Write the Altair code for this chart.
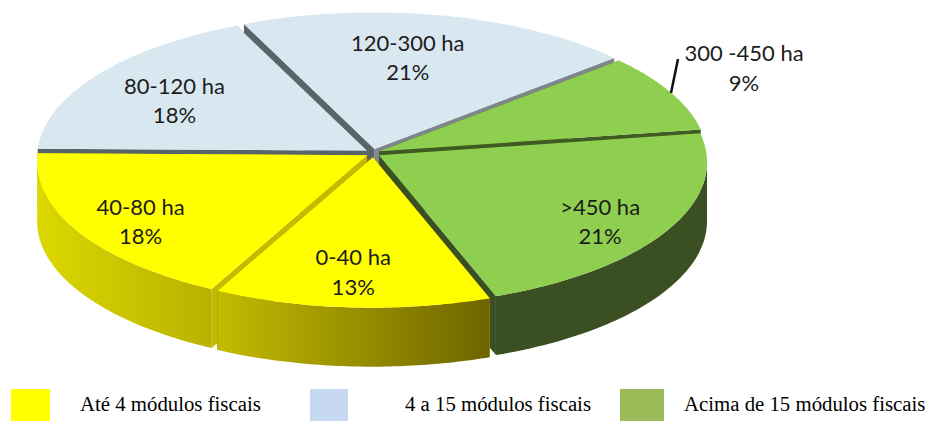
import math
import altair as alt

# ---- data
labels = ["120-300 ha", "300 -450 ha", ">450 ha", "0-40 ha", "40-80 ha", "80-120 ha"]
shares = [21, 9, 21, 13, 18, 18]
top_colors = ["#d9e8f0", "#8fcf50", "#8fcf50", "#ffff00", "#ffff00", "#d9e8f0"]
wall_a = ["#59636a", "#3f5a22", "#3a5022", "#c4bb00", "#c4bb00", "#59636a"]
wall_b = ["#7f878d", "#3f5a22", "#3a5022", "#6e6400", "#c4bb00", "#59636a"]
outer_a = ["#59636a", "#3f5a22", "#3a5022", "#c4bb00", "#dcd800", "#59636a"]
outer_b = ["#59636a", "#3f5a22", "#3a5022", "#6e6400", "#b9b100", "#59636a"]
legend_labels = ["Até 4 módulos fiscais", "4 a 15 módulos fiscais", "Acima de 15 módulos fiscais"]
legend_colors = ["#ffff00", "#c6d9f1", "#9bbb59"]

# ---- layout of the pseudo-3D drawing (page pixels)
W, H = 919, 413
CX, CY, RX, RY = 372, 160, 329, 143.5   # rim ellipse
AX, AY = 373, 153                       # apex sits behind the ellipse centre (perspective)
DEPTH = 59
EXPLODE = 7
START = 115.0
# perspective drift of each slice boundary on the rim, in degrees
DRIFT = [-1.8, 3.6, 4.6, -0.4, -2.6, -3.4, -1.8]


def P(x, y):
    return [x - 8, y - 8]


def feature(ring):
    return {"type": "Feature", "properties": {}, "geometry": {"type": "Polygon", "coordinates": [ring + [ring[0]]]}}


def line(points):
    return {"type": "Feature", "properties": {}, "geometry": {"type": "LineString", "coordinates": points}}


proj = alt.Projection(type="identity", scale=1, translate=[0, 0])


def shape(feat, **mark):
    return alt.Chart(alt.Data(values=[feat])).mark_geoshape(**mark).project(**proj.to_dict())


def poly(ring, fill):
    return shape(feature(ring), fill=fill, filled=True, strokeWidth=0, stroke="transparent")


def gradient(a, b):
    return alt.Gradient(gradient="linear", x1=0, x2=1, y1=0, y2=0,
                        stops=[alt.GradientStop(color=a, offset=0), alt.GradientStop(color=b, offset=1)])


# angles of every slice, clockwise from START
spans = []
angle = START
for s in shares:
    sweep = 360.0 * s / sum(shares)
    spans.append((angle, angle - sweep))
    angle -= sweep

layers = [shape(feature([[0, 0], [W, 0], [W, H], [0, H]]), fill="white", filled=True, opacity=0)]
texts = []
for i in [0, 5, 1, 4, 2, 3]:
    a0, a1 = spans[i]
    mid = math.radians((a0 + a1) / 2)
    ox = EXPLODE * math.cos(mid)
    oy = -EXPLODE * 0.6 * math.sin(mid)
    b0, b1 = a0 + DRIFT[i], a1 + DRIFT[i + 1]
    n = 60
    rim = []
    sins = []
    for k in range(n + 1):
        t = math.radians(b0 + (b1 - b0) * k / n)
        rim.append((CX + RX * math.cos(t) + ox, CY - RY * math.sin(t) + oy))
        sins.append(math.sin(t))
    ax, ay = AX + ox, AY + oy
    # radial walls
    for (px, py), col in ((rim[0], wall_a[i]), (rim[-1], wall_b[i])):
        layers.append(poly([P(ax, ay), P(px, py), P(px, py + DEPTH), P(ax, ay + DEPTH)], col))
    # outer wall: only the part facing the viewer
    front = [p for p, s in zip(rim, sins) if s <= 0.03]
    if front:
        ring = [P(x, y) for x, y in front] + [P(x, y + DEPTH) for x, y in reversed(front)]
        fill = gradient(outer_a[i], outer_b[i]) if outer_a[i] != outer_b[i] else outer_a[i]
        layers.append(poly(ring, fill))
    # top face
    layers.append(poly([P(ax, ay)] + [P(x, y) for x, y in rim], top_colors[i]))

# leader of the 300-450 label
layers.append(shape(line([P(671, 93), P(678, 59)]), filled=False, fill="transparent", stroke="#111111", strokeWidth=2.5))

# slice labels: radial position, with pixel nudges (first line of each label)
NUDGE = {0: (-0.22, -0.05), 5: (0.05, 0.02), 4: (0.06, 0.0), 3: (0, 0), 2: (0.04, 0.03)}
SHIFT = {0: (-4, -14), 5: (29, -11), 4: (-1, -12), 3: (-10, -14), 2: (0, -12)}
for i, lab in enumerate(labels):
    a0, a1 = spans[i]
    mid = math.radians((a0 + a1) / 2)
    if i == 1:
        x, y = 744, 54
    else:
        nx, ny = NUDGE[i]
        x = CX + 332 * (0.76 + nx) * math.cos(mid) + SHIFT[i][0]
        y = CY - 148 * (0.76 + ny) * math.sin(mid) + SHIFT[i][1]
    px = P(x, y)
    texts.append({"lon": px[0], "lat": px[1], "t": f"{lab}\n{shares[i]}%"})

label_layer = alt.Chart(alt.Data(values=texts)).mark_text(
    font="Lato", fontSize=22, color="#1c1c1c", lineBreak="\n", lineHeight=29.5, align="center", baseline="middle"
).encode(longitude="lon:Q", latitude="lat:Q", text="t:N").project(**proj.to_dict())
layers.append(label_layer)

# legend row
swatch_x = [(11, 50), (310, 348), (620, 664)]
text_x = [80, 405, 684]
for (x0, x1), col in zip(swatch_x, legend_colors):
    layers.append(poly([P(x0, 389), P(x1, 389), P(x1, 421), P(x0, 421)], col))
legend_rows = [{"lon": P(x, 405)[0], "lat": P(x, 405)[1], "t": t} for x, t in zip(text_x, legend_labels)]
layers.append(alt.Chart(alt.Data(values=legend_rows)).mark_text(
    font="Liberation Serif", fontSize=20.8, color="#000000", align="left", baseline="middle"
).encode(longitude="lon:Q", latitude="lat:Q", text="t:N").project(**proj.to_dict()))

chart = alt.layer(*layers).properties(width=W, height=H, padding=0).configure_view(stroke=None)
chart.save("out.html", embed_options={"renderer": "svg", "actions": False})
